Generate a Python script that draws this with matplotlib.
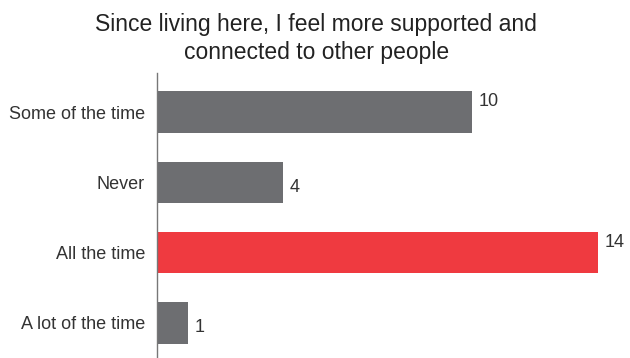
import matplotlib
matplotlib.use("Agg")
import matplotlib.pyplot as plt

# datos del gráfico
categorias = ["Some of the time", "Never", "All the time", "A lot of the time"]
valores = [10, 4, 14, 1]
colores = ["#6d6e71", "#6d6e71", "#ef3a40", "#6d6e71"]
titulo = "Since living here, I feel more supported and\nconnected to other people"

plt.rcParams["font.family"] = ["Liberation Sans", "DejaVu Sans"]

fig = plt.figure(figsize=(6.3, 3.58), dpi=100)
ax = fig.add_axes([0.249, 0.0, 0.751, 0.785])

posiciones = list(range(len(categorias)))
ax.barh(posiciones, valores, height=0.59, color=colores)
ax.set_ylim(len(categorias) - 0.5, -0.5)
ax.set_xlim(0, 15)

ax.set_yticks(posiciones)
ax.set_yticklabels(categorias, fontsize=13, color="#333333")
ax.tick_params(axis="y", length=0, pad=8.5)
ax.set_xticks([])

for lado in ["top", "right", "bottom"]:
    ax.spines[lado].set_visible(False)
ax.spines["left"].set_color("#777777")
ax.spines["left"].set_linewidth(1)
ax.spines["left"].set_bounds(-0.55, 3.5)

# etiquetas con el valor al final de cada barra
for pos, val in zip(posiciones, valores):
    desplaz = -0.15 if val >= 10 else 0.07
    ax.annotate(str(val), (val, pos + desplaz), xytext=(4.5, 0),
                textcoords="offset points", va="center", ha="left",
                fontsize=13, color="#333333")

fig.text(0.502, 0.893, titulo, ha="center", va="center", fontsize=16.5,
         color="#222222", linespacing=1.26)

fig.savefig("out.png", dpi=100)
